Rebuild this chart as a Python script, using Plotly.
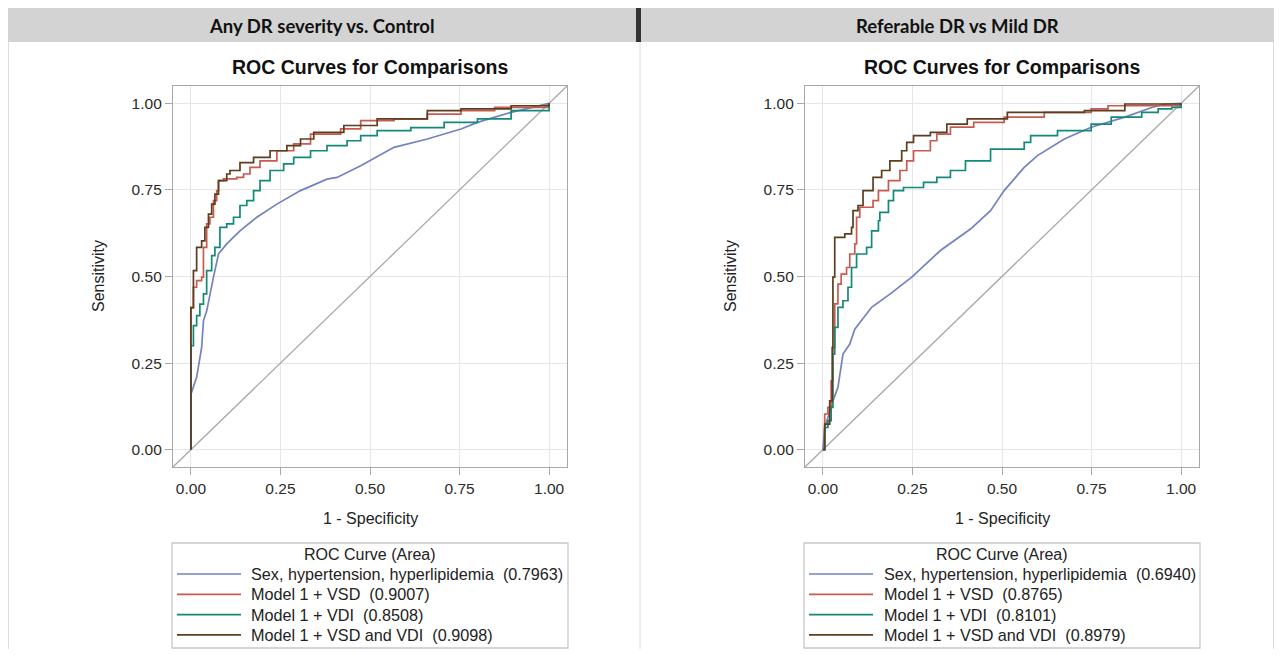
import plotly.graph_objects as go

# ---- data ----
panel_titles = ["Any DR severity vs. Control", "Referable DR vs Mild DR"]
model_names = ["Sex, hypertension, hyperlipidemia", "Model 1 + VSD",
               "Model 1 + VDI", "Model 1 + VSD and VDI"]
auc_any = ["0.7963", "0.9007", "0.8508", "0.9098"]
auc_ref = ["0.6940", "0.8765", "0.8101", "0.8979"]
tick_vals = [0, 0.25, 0.5, 0.75, 1.0]
tick_text = ["0.00", "0.25", "0.50", "0.75", "1.00"]
axis_range = [-0.05, 1.05]

# Any DR severity vs. Control
any_base_x = [0, 0, 0.016, 0.03, 0.035, 0.044, 0.063, 0.077, 0.1, 0.137, 0.184, 0.24, 0.306,
              0.38, 0.408, 0.474, 0.567, 0.66, 0.754, 0.8, 0.894, 1]
any_base_y = [0, 0.16, 0.209, 0.295, 0.372, 0.40, 0.498, 0.565, 0.594, 0.632, 0.671, 0.709, 0.748,
              0.781, 0.786, 0.82, 0.873, 0.897, 0.926, 0.945, 0.974, 1]
any_vsd_x = [0, 0, 0.007, 0.016, 0.03, 0.035, 0.044, 0.053, 0.063, 0.072, 0.077, 0.091, 0.128,
             0.147, 0.165, 0.193, 0.24, 0.287, 0.334, 0.418, 0.474, 0.567, 0.66, 0.754, 0.848, 1]
any_vsd_y = [0, 0.41, 0.469, 0.488, 0.498, 0.584, 0.652, 0.671, 0.719, 0.748, 0.777, 0.782, 0.786,
             0.796, 0.815, 0.834, 0.863, 0.883, 0.911, 0.926, 0.95, 0.955, 0.969, 0.979, 0.988, 1]
any_vdi_x = [0, 0, 0.007, 0.016, 0.025, 0.035, 0.044, 0.058, 0.067, 0.081, 0.1, 0.119, 0.137, 0.156,
             0.175, 0.193, 0.221, 0.259, 0.287, 0.334, 0.38, 0.436, 0.474, 0.52, 0.614, 0.707, 0.8,
             0.894, 1]
any_vdi_y = [0, 0.30, 0.358, 0.387, 0.42, 0.45, 0.517, 0.56, 0.584, 0.642, 0.652, 0.671, 0.705, 0.719,
             0.748, 0.777, 0.806, 0.825, 0.844, 0.863, 0.878, 0.892, 0.907, 0.921, 0.93, 0.945, 0.955,
             0.979, 1]
any_both_x = [0, 0, 0.007, 0.016, 0.03, 0.039, 0.049, 0.058, 0.067, 0.077, 0.1, 0.109, 0.137, 0.175,
              0.221, 0.268, 0.306, 0.343, 0.427, 0.52, 0.66, 0.754, 0.894, 1]
any_both_y = [0, 0.41, 0.517, 0.584, 0.603, 0.642, 0.68, 0.709, 0.738, 0.777, 0.796, 0.806, 0.829, 0.844,
              0.863, 0.878, 0.897, 0.916, 0.936, 0.955, 0.979, 0.984, 0.993, 1]

# Referable DR vs Mild DR
ref_base_x = [0, 0.005, 0.014, 0.028, 0.042, 0.056, 0.075, 0.089, 0.136, 0.187, 0.248, 0.328, 0.412,
              0.468, 0.506, 0.562, 0.599, 0.674, 0.749, 0.843, 0.918, 0.955, 1]
ref_base_y = [0, 0.064, 0.093, 0.141, 0.18, 0.276, 0.305, 0.348, 0.411, 0.449, 0.498, 0.575, 0.637,
              0.69, 0.748, 0.815, 0.849, 0.897, 0.931, 0.96, 0.988, 0.998, 1]
ref_vsd_x = [0, 0.005, 0.014, 0.023, 0.028, 0.033, 0.042, 0.051, 0.066, 0.075, 0.089, 0.094, 0.103,
             0.14, 0.155, 0.183, 0.215, 0.234, 0.253, 0.3, 0.318, 0.356, 0.421, 0.506, 0.618, 0.749,
             0.796, 1]
ref_vsd_y = [0, 0.103, 0.122, 0.199, 0.295, 0.421, 0.478, 0.507, 0.526, 0.565, 0.594, 0.671, 0.70,
             0.719, 0.748, 0.777, 0.806, 0.834, 0.863, 0.892, 0.911, 0.931, 0.945, 0.96, 0.974, 0.984,
             0.993, 1]
ref_vdi_x = [0, 0.005, 0.014, 0.023, 0.028, 0.033, 0.042, 0.056, 0.07, 0.08, 0.094, 0.122, 0.136,
             0.155, 0.159, 0.183, 0.197, 0.225, 0.281, 0.318, 0.356, 0.398, 0.468, 0.562, 0.58, 0.655,
             0.749, 0.805, 0.89, 0.936, 0.974, 1]
ref_vdi_y = [0, 0.064, 0.084, 0.122, 0.276, 0.353, 0.411, 0.43, 0.469, 0.526, 0.565, 0.584, 0.632,
             0.661, 0.685, 0.719, 0.748, 0.757, 0.772, 0.786, 0.806, 0.834, 0.868, 0.887, 0.907, 0.921,
             0.94, 0.96, 0.974, 0.984, 0.988, 1]
ref_both_x = [0, 0.005, 0.019, 0.026, 0.028, 0.033, 0.061, 0.08, 0.084, 0.098, 0.112, 0.14, 0.164,
              0.187, 0.22, 0.234, 0.253, 0.3, 0.346, 0.403, 0.515, 0.73, 0.843, 1]
ref_both_y = [0, 0.074, 0.141, 0.295, 0.498, 0.613, 0.623, 0.642, 0.69, 0.705, 0.748, 0.786, 0.806,
              0.834, 0.863, 0.887, 0.907, 0.916, 0.94, 0.955, 0.974, 0.979, 0.998, 1]

panels = [
    [(any_base_x, any_base_y), (any_vsd_x, any_vsd_y), (any_vdi_x, any_vdi_y), (any_both_x, any_both_y)],
    [(ref_base_x, ref_base_y), (ref_vsd_x, ref_vsd_y), (ref_vdi_x, ref_vdi_y), (ref_both_x, ref_both_y)],
]
aucs = [auc_any, auc_ref]

colors = ["#7482bf", "#c85a50", "#13897a", "#5c3d1e"]
FONT = "Liberation Sans, Arial, sans-serif"

# the page body has an 8px margin, so the figure starts at (8, 8) in the window
OFF = 8
W, H = 1282 - 2 * OFF, 657 - 2 * OFF


def px(x):
    return (x - OFF) / W


def py(y):
    return 1 - (y - OFF) / H


fig = go.Figure()

# pixel geometry of the two panels (window coordinates)
frames = [dict(l=173, r=567, leg_l=172, leg_r=568, line0=177, line1=241, txt=249, hdr=(8, 636)),
          dict(l=805, r=1199, leg_l=804, leg_r=1200, line0=809, line1=873, txt=882, hdr=(641, 1274))]
plot_top, plot_bot = 86, 467

shapes = []
annotations = []

for p, fr in enumerate(frames):
    xa = "x" if p == 0 else "x2"
    ya = "y" if p == 0 else "y2"
    # diagonal reference
    fig.add_trace(go.Scatter(x=axis_range, y=axis_range, mode="lines", xaxis=xa, yaxis=ya,
                             line=dict(color="#a9a9a9", width=1.3), showlegend=False, hoverinfo="skip"))
    for i, (xs, ys) in enumerate(panels[p]):
        fig.add_trace(go.Scatter(
            x=xs, y=ys, mode="lines", xaxis=xa, yaxis=ya, showlegend=False,
            name=model_names[i],
            line=dict(color=colors[i], width=1.7, shape="linear" if i == 0 else "hv")))

    axis_common = dict(range=axis_range, tickvals=tick_vals, ticktext=tick_text, showgrid=True,
                       gridcolor="#e6e6e6", gridwidth=1, zeroline=False, showline=True, mirror=True,
                       linecolor="#a8a8a8", linewidth=1.3, ticks="outside", ticklen=7,
                       tickcolor="#a8a8a8", tickfont=dict(family=FONT, size=15.5, color="#2b2b2b"))
    xkey = "xaxis" if p == 0 else "xaxis2"
    ykey = "yaxis" if p == 0 else "yaxis2"
    fig.update_layout({
        xkey: dict(axis_common, domain=[px(fr["l"]), px(fr["r"])], anchor=ya),
        ykey: dict(axis_common, domain=[py(plot_bot), py(plot_top)], anchor=xa),
    })

    cx = (fr["l"] + fr["r"]) / 2
    h0, h1 = fr["hdr"]
    # header bar
    shapes.append(dict(type="rect", xref="paper", yref="paper", x0=px(h0), x1=px(h1),
                       y0=py(42), y1=py(8), fillcolor="#d3d3d3", line=dict(width=0), layer="below"))
    annotations.append(dict(text="<b>" + panel_titles[p] + "</b>", x=px((h0 + h1) / 2), y=py(26),
                            xref="paper", yref="paper", showarrow=False, xanchor="center",
                            yanchor="middle", font=dict(family="Lato, Open Sans", size=18.5,
                                                        color="#111")))
    # chart title
    annotations.append(dict(text="<b>ROC Curves for Comparisons</b>", x=px(cx), y=py(67),
                            xref="paper", yref="paper", showarrow=False, xanchor="center",
                            yanchor="middle", font=dict(family=FONT, size=19.5, color="#111")))
    # axis titles
    annotations.append(dict(text="1 - Specificity", x=px(cx), y=py(519), xref="paper", yref="paper",
                            showarrow=False, xanchor="center", yanchor="middle",
                            font=dict(family=FONT, size=16, color="#222")))
    annotations.append(dict(text="Sensitivity", x=px(fr["l"] - 75), y=py(276), xref="paper",
                            yref="paper", showarrow=False, textangle=-90, xanchor="center",
                            yanchor="middle", font=dict(family=FONT, size=16, color="#222")))
    # legend box
    shapes.append(dict(type="rect", xref="paper", yref="paper", x0=px(fr["leg_l"]), x1=px(fr["leg_r"]),
                       y0=py(648), y1=py(543), line=dict(color="#c8c8c8", width=1.3)))
    annotations.append(dict(text="ROC Curve (Area)", x=px(cx), y=py(554), xref="paper", yref="paper",
                            showarrow=False, xanchor="center", yanchor="middle",
                            font=dict(family=FONT, size=16, color="#222")))
    for i, name in enumerate(model_names):
        yy = 574 + i * 20.3
        shapes.append(dict(type="line", xref="paper", yref="paper", x0=px(fr["line0"]),
                           x1=px(fr["line1"]), y0=py(yy), y1=py(yy),
                           line=dict(color=colors[i], width=1.7)))
        annotations.append(dict(text=name + "\u00a0 (" + aucs[p][i] + ")", x=px(fr["txt"]), y=py(yy),
                                xref="paper", yref="paper", showarrow=False, xanchor="left",
                                yanchor="middle", font=dict(family=FONT, size=16.2, color="#222")))

# dark separator between headers and panel borders
shapes.append(dict(type="rect", xref="paper", yref="paper", x0=px(636), x1=px(641), y0=py(42), y1=py(8),
                   fillcolor="#333333", line=dict(width=0)))
for xb in [8.5, 640, 1273.5]:
    shapes.append(dict(type="line", xref="paper", yref="paper", x0=px(xb), x1=px(xb), y0=py(42), y1=0,
                       line=dict(color="#dcdcdc", width=1)))

fig.update_layout(width=W, height=H, margin=dict(l=0, r=0, t=0, b=0), paper_bgcolor="white",
                  plot_bgcolor="white", shapes=shapes, annotations=annotations, showlegend=False)

fig.write_html("out.html")
